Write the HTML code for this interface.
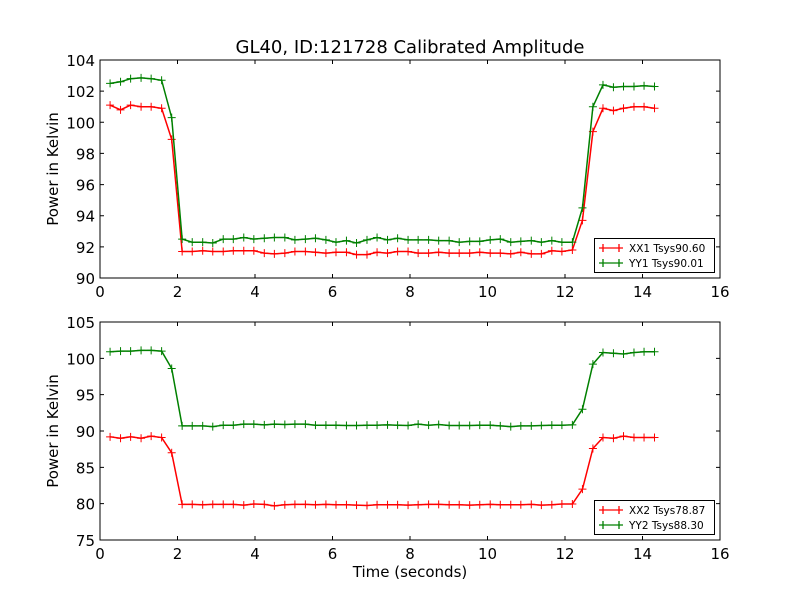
<!DOCTYPE html>
<html><head><meta charset="utf-8"><style>
body{margin:0;background:#fff;}
svg{display:block;font-family:"DejaVu Sans","Liberation Sans",sans-serif;}
</style></head><body>
<svg id="chart" width="800" height="600" viewBox="0 0 800 600">
<rect width="800" height="600" fill="#fff"/>
<text x="410" y="53" font-size="18" text-anchor="middle">GL40, ID:121728 Calibrated Amplitude</text>
<g id="g"></g>
</svg>
<script>
const times = [0.26,0.53,0.79,1.06,1.32,1.59,1.85,2.12,2.38,2.65,2.91,3.18,3.44,3.71,3.97,4.24,4.50,4.77,5.03,5.30,5.56,5.83,6.09,6.36,6.62,6.89,7.15,7.42,7.68,7.95,8.21,8.48,8.74,9.01,9.27,9.54,9.80,10.07,10.33,10.60,10.86,11.13,11.39,11.66,11.92,12.19,12.45,12.72,12.98,13.25,13.51,13.78,14.04,14.31];
const xx1 = [101.1,100.8,101.1,101.0,101.0,100.9,98.9,91.7,91.7,91.75,91.7,91.7,91.75,91.75,91.75,91.6,91.55,91.6,91.7,91.7,91.65,91.6,91.65,91.65,91.5,91.5,91.65,91.6,91.7,91.7,91.6,91.6,91.65,91.6,91.6,91.6,91.65,91.6,91.6,91.55,91.65,91.55,91.55,91.75,91.7,91.8,93.7,99.4,100.9,100.75,100.9,101.0,101.0,100.9];
const yy1 = [102.5,102.6,102.8,102.85,102.8,102.7,100.3,92.5,92.3,92.3,92.25,92.5,92.5,92.6,92.5,92.55,92.6,92.6,92.45,92.5,92.55,92.45,92.3,92.4,92.25,92.45,92.6,92.45,92.55,92.45,92.45,92.45,92.4,92.4,92.3,92.35,92.35,92.45,92.5,92.3,92.35,92.4,92.3,92.4,92.3,92.3,94.5,101.0,102.4,102.25,102.3,102.3,102.35,102.3];
const xx2 = [89.2,89.0,89.2,89.0,89.3,89.1,87.0,79.9,79.9,79.85,79.9,79.9,79.9,79.8,79.95,79.9,79.7,79.85,79.9,79.9,79.85,79.9,79.85,79.85,79.8,79.75,79.85,79.85,79.85,79.8,79.85,79.9,79.9,79.85,79.85,79.8,79.85,79.9,79.85,79.85,79.85,79.9,79.8,79.85,79.95,79.95,82.0,87.6,89.1,89.0,89.3,89.1,89.1,89.1];
const yy2 = [100.9,101.0,101.0,101.1,101.1,101.0,98.6,90.7,90.7,90.7,90.6,90.8,90.8,90.95,90.95,90.85,90.95,90.9,90.95,90.95,90.8,90.8,90.8,90.75,90.75,90.8,90.8,90.85,90.8,90.75,90.95,90.8,90.9,90.75,90.75,90.75,90.8,90.8,90.7,90.6,90.7,90.7,90.75,90.8,90.8,90.85,93.0,99.2,100.8,100.7,100.6,100.8,100.9,100.9];
const xTicks = [0,2,4,6,8,10,12,14,16];
const topTicks = [90,92,94,96,98,100,102,104];
const botTicks = [75,80,85,90,95,100,105];

const NS = "http://www.w3.org/2000/svg";
const root = document.getElementById('g');
function mk(tag, attrs, parent){const e=document.createElementNS(NS,tag);for(const k in attrs)e.setAttribute(k,attrs[k]);(parent||root).appendChild(e);return e;}

function panel(name, top, bottom, ymin, ymax, yticks, s1, s2, l1, l2, legTop, showXLabel){
  const L=100,R=720;
  const g = mk('g',{});
  
  
  const xs = v => L + (v-0)/(16-0)*(R-L);
  const ys = v => bottom - (v-ymin)/(ymax-ymin)*(bottom-top);
  const series = [[s1,'#ff0000',l1],[s2,'#008000',l2]];
  series.forEach(([vals,col,lab])=>{
    const pts = vals.map((v,i)=>xs(times[i]).toFixed(2)+','+ys(v).toFixed(2)).join(' ');
    const pl = mk('polyline',{points:pts,fill:'none',stroke:col,'stroke-width':1.5},g);
    
    
    vals.forEach((v,i)=>{
      const x=xs(times[i]), y=ys(v);
      const m = mk('path',{d:`M${x-4},${y}H${x+4}M${x},${y-4}V${y+4}`,stroke:col,'stroke-width':1},g);
      
      
    });
  });
  const fr = mk('rect',{x:L,y:top,width:R-L,height:bottom-top,fill:'none',stroke:'#000','stroke-width':1},g);
  
  
  xTicks.forEach(t=>{
    const x=xs(t);
    mk('path',{d:`M${x},${bottom}V${bottom-4}M${x},${top}V${top+4}`,stroke:'#000'},g);
    const tx = mk('text',{x:x,y:bottom+19,'font-size':15,'text-anchor':'middle'},g);
    tx.textContent = t;
    
    
  });
  yticks.forEach(t=>{
    const y=ys(t);
    mk('path',{d:`M${L},${y}H${L+4}M${R},${y}H${R-4}`,stroke:'#000'},g);
    const tx = mk('text',{x:L-5,y:y+6,'font-size':15,'text-anchor':'end'},g);
    tx.textContent = t;
    
    
  });
  const yl = mk('text',{x:0,y:0,'font-size':15,'text-anchor':'middle',transform:`translate(58,${(top+bottom)/2}) rotate(-90)`},g);
  yl.textContent = 'Power in Kelvin';
  
  
  if(showXLabel){
    const xl = mk('text',{x:410,y:577,'font-size':15,'text-anchor':'middle'},g);
    xl.textContent = 'Time (seconds)';
    
    
  }
  const lg = mk('g',{},g);
  
  
  mk('rect',{x:594.5,y:legTop+0.5,width:120,height:34,fill:'#fff',stroke:'#000'},lg);
  series.forEach(([v,col,lab],k)=>{
    const y = legTop+10+k*15;
    const e = mk('g',{},lg);
    
    
    mk('path',{d:`M599,${y}H623M603,${y-4}V${y+4}M619,${y-4}V${y+4}`,stroke:col,'stroke-width':1.3},e);
    const t = mk('text',{x:629,y:y+4,'font-size':10.5},e);
    t.textContent = lab;
  });
}
panel('top-panel',60,278,90,104,topTicks,xx1,yy1,'XX1 Tsys90.60','YY1 Tsys90.01',238,false);
panel('bottom-panel',322,540,75,105,botTicks,xx2,yy2,'XX2 Tsys78.87','YY2 Tsys88.30',500,true);
</script>
</body></html>
